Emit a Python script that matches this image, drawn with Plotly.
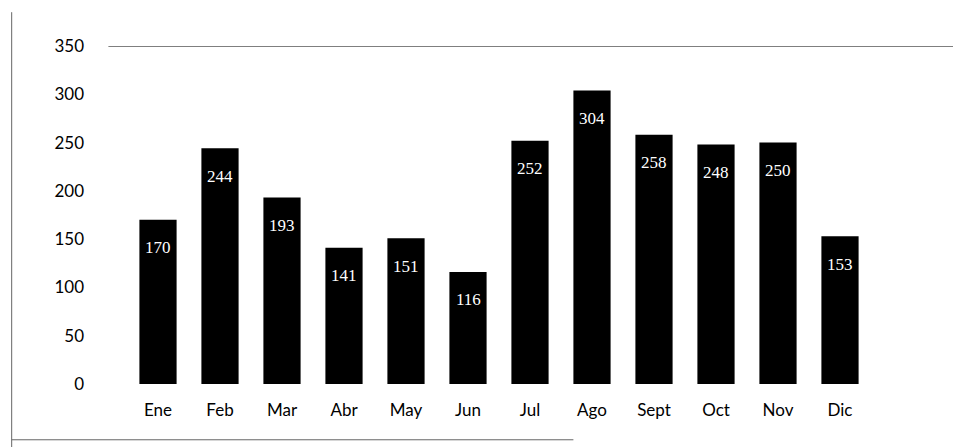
import plotly.graph_objects as go

months = ["Ene", "Feb", "Mar", "Abr", "May", "Jun", "Jul", "Ago", "Sept", "Oct", "Nov", "Dic"]
values = [170, 244, 193, 141, 151, 116, 252, 304, 258, 248, 250, 153]
y_ticks = [0, 50, 100, 150, 200, 250, 300, 350]

fig = go.Figure(go.Bar(
    x=months, y=values,
    marker=dict(color="black", line=dict(width=0)),
    width=0.6,
    cliponaxis=False,
))

for m, v in zip(months, values):
    fig.add_annotation(x=m, y=v, text=str(v), showarrow=False, yshift=-28,
                       font=dict(color="white", size=17, family="Liberation Serif"))

fig.add_shape(type="line", xref="paper", yref="y", x0=-0.025, x1=1.15, y0=350, y1=350,
              line=dict(color="black", width=1))
fig.add_shape(type="line", xref="paper", yref="paper", x0=-0.155, x1=-0.155, y0=-0.2, y1=1.1,
              line=dict(color="#666", width=1))
fig.add_shape(type="line", xref="paper", yref="paper", x0=-0.155, x1=0.6, y0=-0.165, y1=-0.165,
              line=dict(color="#666", width=1))

fig.update_layout(
    width=961, height=447,
    margin=dict(l=119, r=98, t=38, b=71),
    paper_bgcolor="white", plot_bgcolor="white",
    showlegend=False,
    bargap=0.4,
    font=dict(family="Lato, Liberation Sans", color="black", size=17),
)
fig.update_xaxes(showline=False, showgrid=False, ticks="", ticklabelstandoff=14,
                 tickfont=dict(size=17))
fig.update_yaxes(range=[0, 350], tickvals=y_ticks, showgrid=False, zeroline=False,
                 showline=False, ticks="", ticklabelstandoff=42, tickfont=dict(size=17))

fig.write_html("out.html")
